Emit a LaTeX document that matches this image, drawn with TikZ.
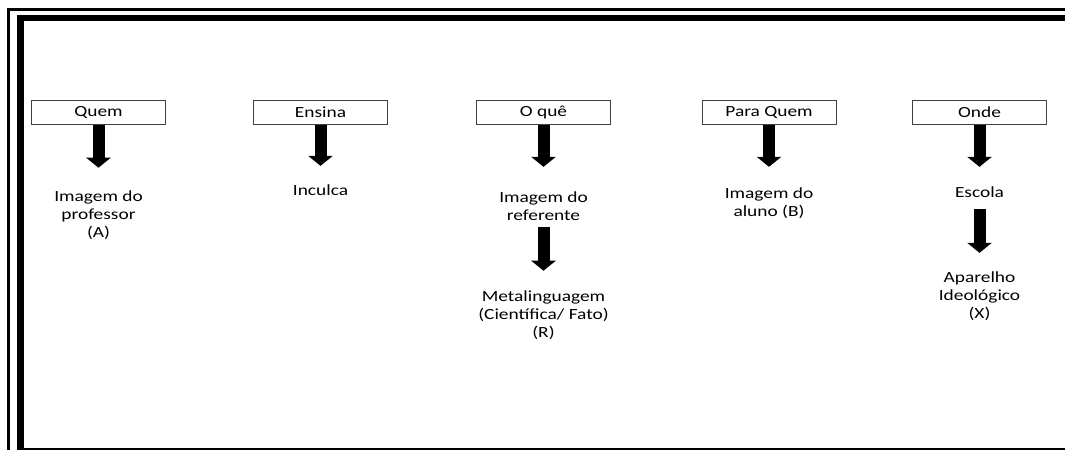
\documentclass[tikz,border=0pt]{standalone}
\usepackage{fontspec}
\setmainfont{Carlito}[FakeStretch=1.25]
\usetikzlibrary{arrows.meta}

\begin{document}
\begin{tikzpicture}[x=1pt,y=-1pt,
  font=\fontsize{15.5}{18}\selectfont,
  label box/.style={draw=black!75,line width=0.8pt,minimum width=134pt,minimum height=24pt,inner sep=0pt},
  item text/.style={align=center,inner sep=0pt},
  block arrow/.style={line width=12pt,-{Triangle[width=24pt,length=10pt]}}]
  \useasboundingbox (0,0) rectangle (1065,450);

  % Frame: thin outer line, thick inner line and thin bottom line
  \draw[line width=2.5pt] (8.5,450) -- (8.5,9.5) -- (1065,9.5);
  \draw[line width=6.5pt] (20.5,450) -- (20.5,18.2) -- (1065,18.2);
  \draw[line width=2pt] (24,449) -- (1065,449);

  % Header boxes
  \node[label box] (quem)      at (98.5,112.5)  {Quem};
  \node[label box] (ensina)    at (320.5,112.5) {Ensina};
  \node[label box] (o que)     at (543.5,112.5) {O quê};
  \node[label box] (para quem) at (769,112.5)   {Para Quem};
  \node[label box] (onde)      at (979.5,112.5) {Onde};

  % Texts under the boxes
  \node[item text] (professor)     at (98.5,215)   {Imagem do\\professor\\(A)};
  \node[item text] (inculca)       at (320.5,190)  {Inculca};
  \node[item text] (referente)     at (543.5,206)  {Imagem do\\referente};
  \node[item text] (metalinguagem) at (543.5,315)  {Metalinguagem\\(Científica/ Fato)\\(R)};
  \node[item text] (aluno)         at (769,203.5)  {Imagem do\\aluno (B)};
  \node[item text] (escola)        at (979.5,192)  {Escola};
  \node[item text] (aparelho)      at (979.5,296.5){Aparelho\\Ideológico\\(X)};

  % Block arrows
  \draw[block arrow,shorten >=22.6pt] (quem.south) -- (professor.north);
  \draw[block arrow,shorten >=18.5pt] (ensina.south) -- (inculca.north);
  \draw[block arrow,shorten >=24.5pt] (o que.south) -- (referente.north);
  \draw[block arrow,shorten <=6.5pt,shorten >=19.6pt] (referente.south) -- (metalinguagem.north);
  \draw[block arrow,shorten >=21pt] (para quem.south) -- (aluno.north);
  \draw[block arrow,shorten >=19.5pt] (onde.south) -- (escola.north);
  \draw[block arrow,shorten <=11.5pt,shorten >=19pt] (escola.south) -- (aparelho.north);
\end{tikzpicture}
\end{document}
